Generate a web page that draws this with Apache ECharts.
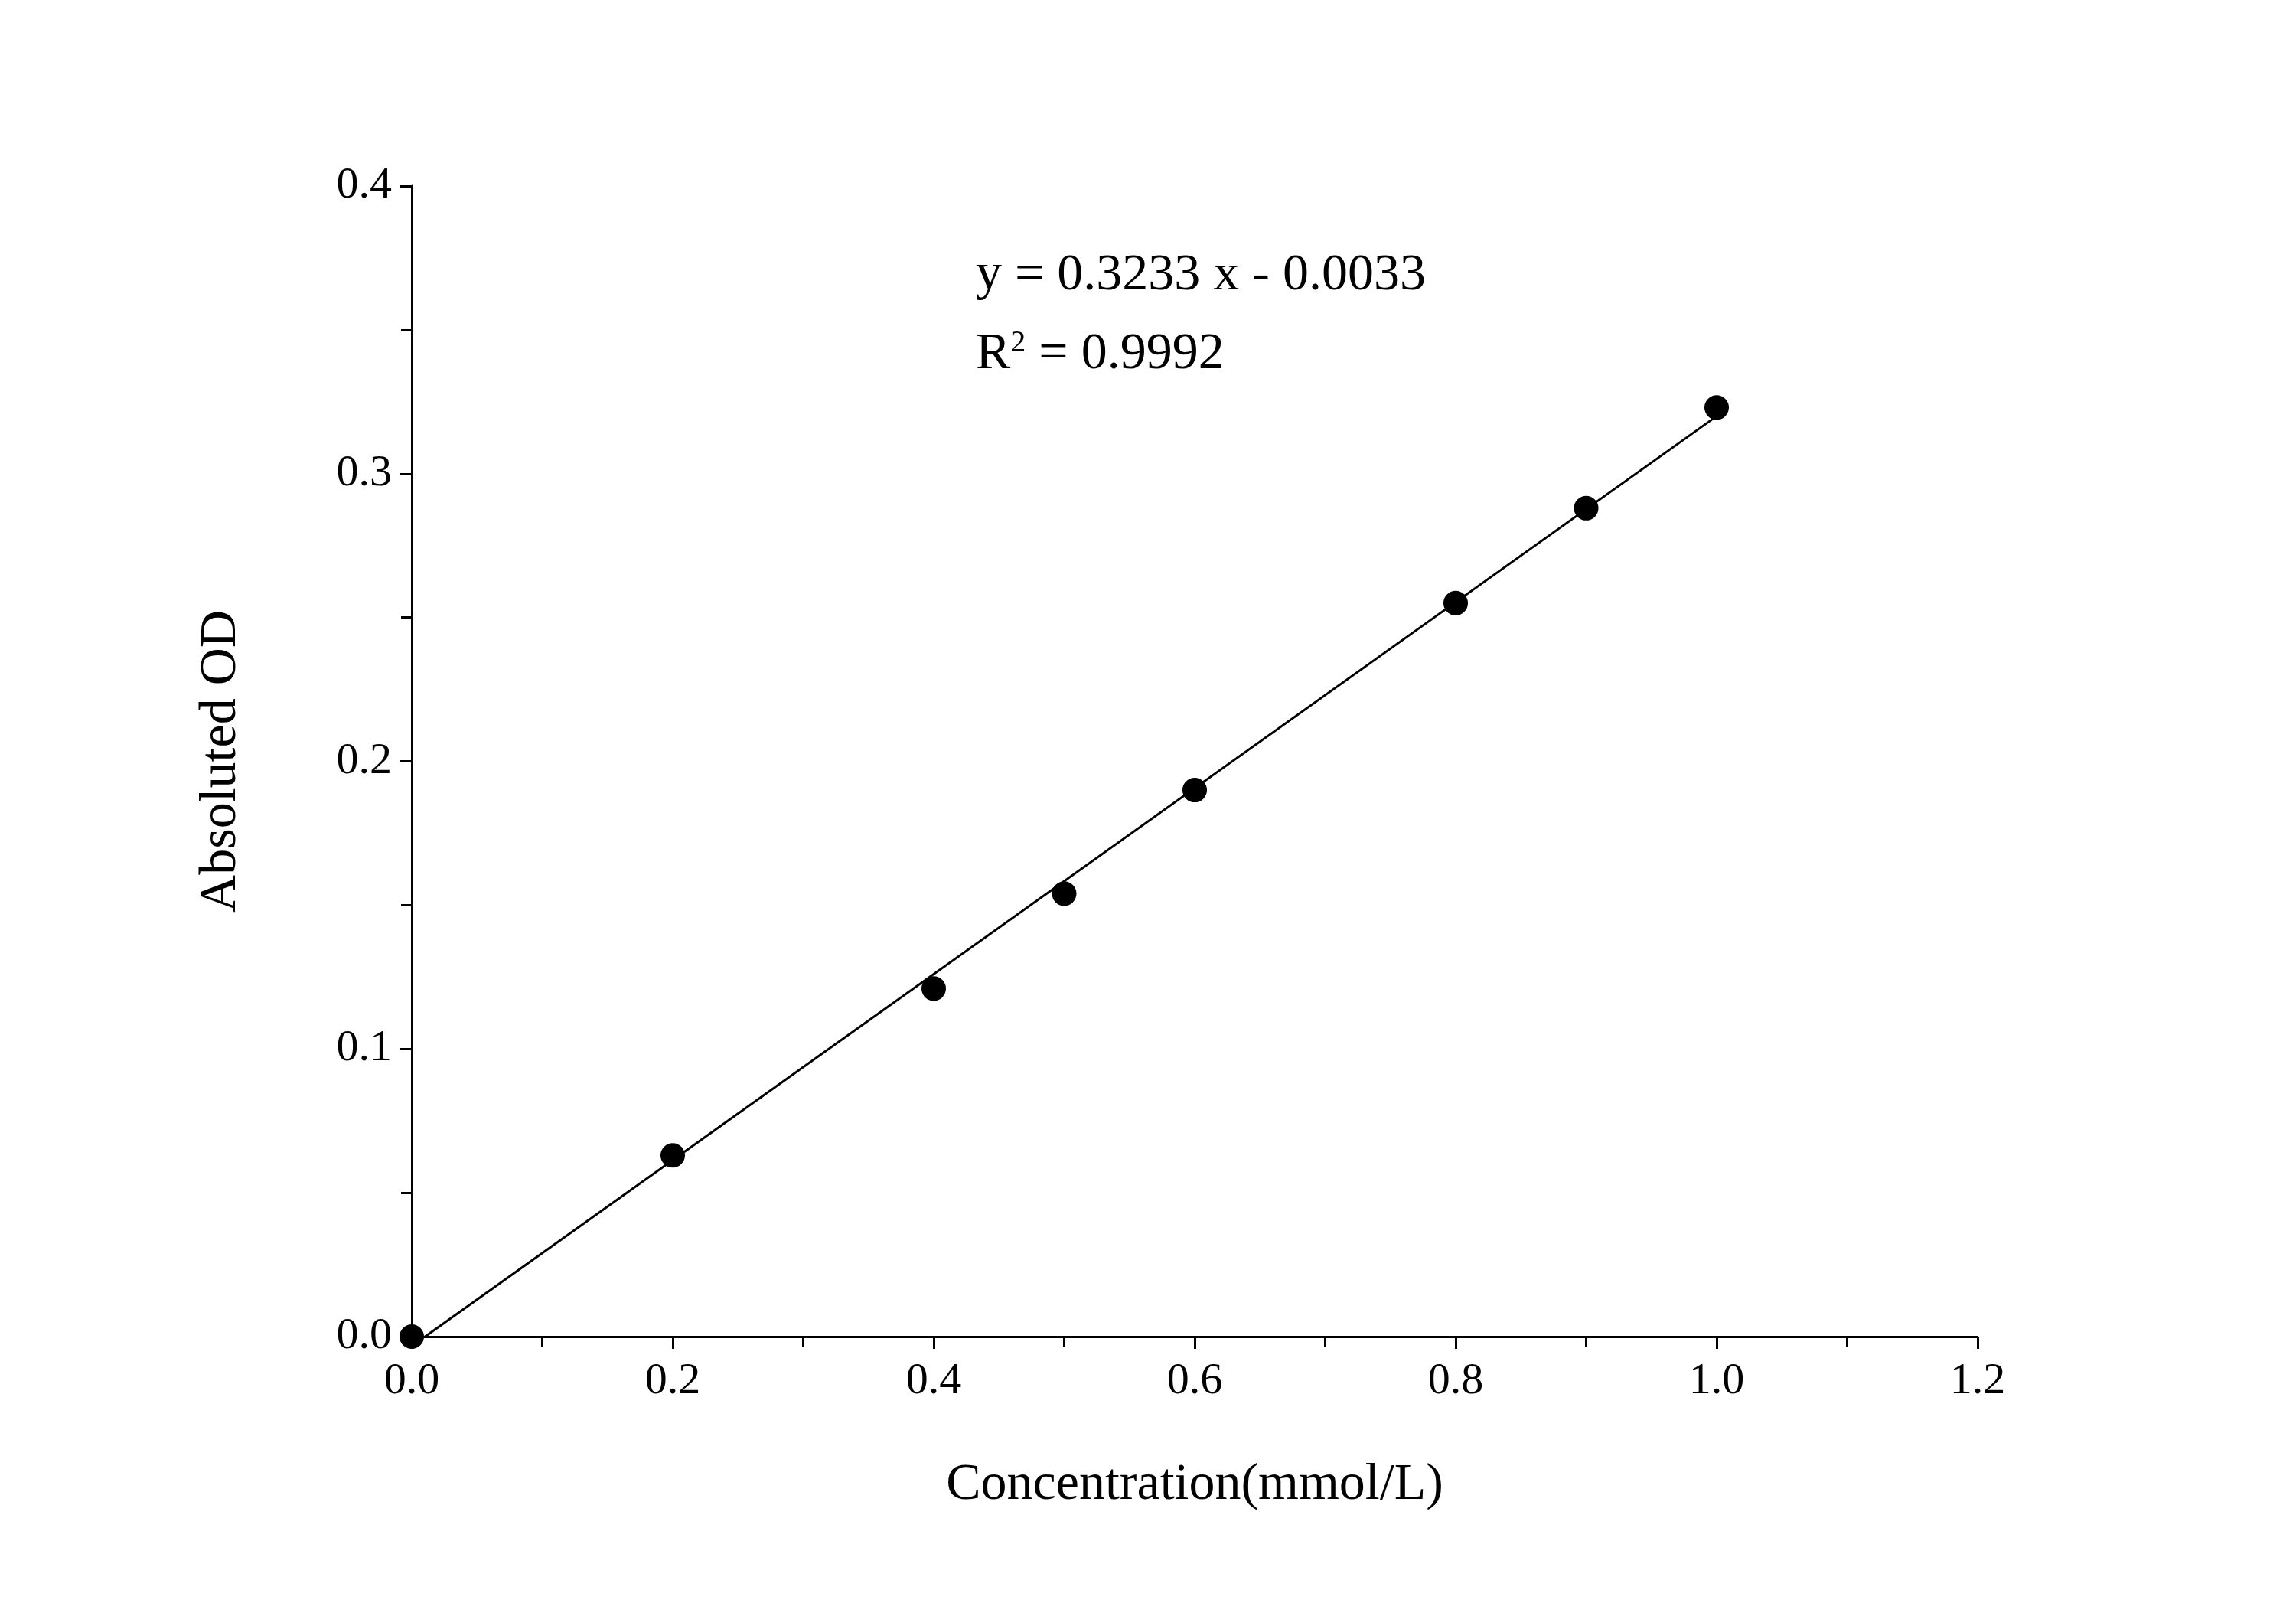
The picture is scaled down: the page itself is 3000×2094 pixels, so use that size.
<!DOCTYPE html>
<html>
<head>
<meta charset="utf-8">
<script src="https://cdn.jsdelivr.net/npm/echarts@6/dist/echarts.min.js"></script>
<style>html,body{margin:0;padding:0;background:#fff}#chart{width:3000px;height:2094px}</style>
</head>
<body>
<div id="chart"></div>
<script>
// measured points
var concentration = [0, 0.2, 0.4, 0.5, 0.6, 0.8, 0.9, 1.0];
var absOD = [0, 0.063, 0.121, 0.154, 0.190, 0.255, 0.288, 0.323];
// regression line y = 0.3233x - 0.0033
var slope = 0.3233, intercept = -0.0033;
var fitX = [0.0102, 1.0];

var font = '"Liberation Serif", "Times New Roman", serif';
var chart = echarts.init(document.getElementById('chart'));

var option = {
    backgroundColor: '#fff',
    animation: false,
    grid: {left: 538, right: 416, top: 243, bottom: 348},
    xAxis: {
        type: 'value', min: 0, max: 1.2, interval: 0.2,
        name: 'Concentration(mmol/L)', nameLocation: 'middle', nameGap: 160,
        nameTextStyle: {fontFamily: font, fontSize: 68, color: '#000'},
        axisLine: {onZero: false, lineStyle: {color: '#000', width: 3}},
        axisTick: {inside: false, length: 16, lineStyle: {color: '#000', width: 3}},
        minorTick: {show: true, splitNumber: 2, length: 14, lineStyle: {color: '#000', width: 3}},
        axisLabel: {fontFamily: font, fontSize: 58, color: '#000', margin: 30,
            formatter: function (v) { return v.toFixed(1); }},
        splitLine: {show: false}
    },
    yAxis: {
        type: 'value', min: 0, max: 0.4, interval: 0.1,
        name: 'Absoluted OD', nameLocation: 'middle', nameGap: 215,
        nameTextStyle: {fontFamily: font, fontSize: 68, color: '#000'},
        axisLine: {onZero: false, lineStyle: {color: '#000', width: 3}},
        axisTick: {inside: false, length: 16, lineStyle: {color: '#000', width: 3}},
        minorTick: {show: true, splitNumber: 2, length: 14, lineStyle: {color: '#000', width: 3}},
        axisLabel: {fontFamily: font, fontSize: 58, color: '#000', margin: 26,
            formatter: function (v) { return v.toFixed(1); }},
        splitLine: {show: false}
    },
    series: [
        {
            type: 'line',
            data: fitX.map(function (x) { return [x, slope * x + intercept]; }),
            showSymbol: false,
            lineStyle: {color: '#000', width: 3},
            z: 2
        },
        {
            type: 'scatter',
            data: concentration.map(function (x, i) { return [x, absOD[i]]; }),
            symbolSize: 32,
            itemStyle: {color: '#000', opacity: 1},
            clip: false,
            z: 3
        }
    ],
    graphic: [
        {type: 'text', left: 1275, top: 326,
            style: {text: 'y = 0.3233 x - 0.0033', font: '68px ' + font, fill: '#000'}},
        {type: 'text', left: 1275, top: 428,
            style: {text: 'R{s|2} = 0.9992', font: '68px ' + font, fill: '#000',
                rich: {s: {fontSize: 40, fontFamily: font, verticalAlign: 'top', padding: [0, 0, 30, 0]}}}}
    ]
};
chart.setOption(option);
</script>
</body>
</html>
